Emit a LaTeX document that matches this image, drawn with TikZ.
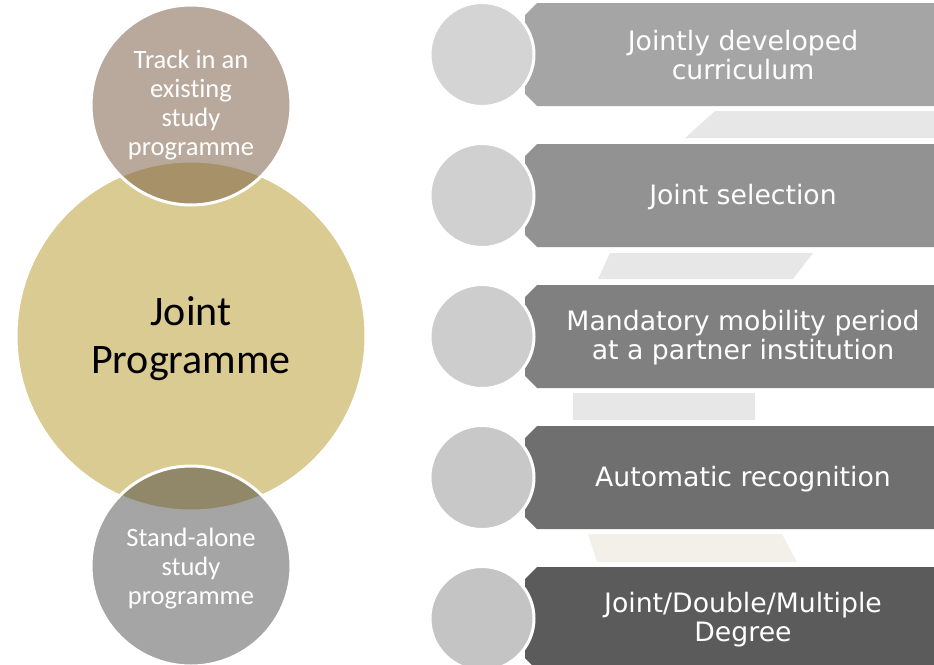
\documentclass[tikz,border=0pt]{standalone}
\usepackage{fontspec}
\setmainfont{Carlito}[Ligatures={NoCommon}]
\newfontfamily\verdfont{DejaVu Sans}
\definecolor{goldc}{RGB}{218,203,146}
\definecolor{trackc}{RGB}{125,96,72}
\definecolor{standc}{RGB}{55,55,55}
\definecolor{boxa}{RGB}{165,165,165}
\definecolor{boxb}{RGB}{146,146,146}
\definecolor{boxc}{RGB}{128,128,128}
\definecolor{boxd}{RGB}{111,111,111}
\definecolor{boxe}{RGB}{91,91,91}
\definecolor{cira}{RGB}{212,212,212}
\definecolor{cirb}{RGB}{208,208,208}
\definecolor{circ}{RGB}{205,205,205}
\definecolor{cird}{RGB}{200,200,200}
\definecolor{cire}{RGB}{196,196,196}
\definecolor{bandc}{RGB}{231,231,231}
\definecolor{bandw}{RGB}{243,240,233}
\begin{document}
\begin{tikzpicture}[x=1pt,y=-1pt,
  ring/.style={circle, draw=white, line width=3pt, inner sep=0pt},
  smalltext/.style={text=white, align=center, font=\fontsize{26.5}{29}\selectfont},
  boxtext/.style={text=white, align=center, font=\verdfont\fontsize{26.7}{29}\selectfont},
  dot/.style={ring, minimum size=104pt}
]
\clip (0,0) rectangle (934,664);
% left cluster
\node[ring, minimum size=350pt, fill=goldc] (joint) at (191,336) {};
\node[align=center, font=\fontsize{42}{48}\selectfont] (jointlabel) at (191,339) {Joint\\Programme};
\node[ring, minimum size=200pt, fill=trackc, fill opacity=0.54] (track) at (191,105) {};
\node[smalltext] (tracklabel) at (191,105) {Track in an\\existing\\study\\programme};
\node[ring, minimum size=200pt, fill=standc, fill opacity=0.45] (stand) at (191,566) {};
\node[smalltext] (standlabel) at (191,569) {Stand-alone\\study\\programme};
% bands between rows
\fill[bandc] (715,111) -- (950,111) -- (950,138) -- (685,138) -- cycle;
\fill[bandc] (610,253) -- (813,253) -- (793,279) -- (598,279) -- cycle;
\fill[bandc] (573,393) rectangle (755,420);
\fill[bandw] (588,534) -- (782,534) -- (797,562) -- (597,562) -- cycle;
% rows
\foreach \yc/\bc/\cc/\nm in {54.5/boxa/cira/1, 195.5/boxb/cirb/2, 336.5/boxc/circ/3, 477.5/boxd/cird/4, 618.5/boxe/cire/5}{
  \fill[\bc] (537,\yc-51.5) -- (525,\yc-39.5) -- (525,\yc+39.5) -- (537,\yc+51.5)
     -- (950,\yc+51.5) -- (950,\yc-51.5) -- cycle;
  \node[dot, fill=\cc] (c\nm) at (482,\yc) {};
}
\node[boxtext] (t1) at (743,55.5) {Jointly developed\\curriculum};
\node[boxtext] (t2) at (743,197) {Joint selection};
\node[boxtext] (t3) at (743,337.5) {Mandatory mobility period\\at a partner institution};
\node[boxtext] (t4) at (743,479) {Automatic recognition};
\node[boxtext] (t5) at (743,619.5) {Joint/Double/Multiple\\Degree};
\end{tikzpicture}
\end{document}
